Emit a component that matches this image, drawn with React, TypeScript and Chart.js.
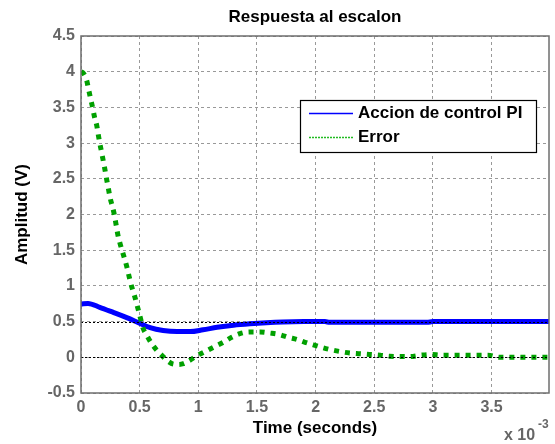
import React, { useEffect, useRef } from "react";
import { Chart, registerables } from "chart.js";

Chart.register(...registerables);

const titleText = "Respuesta al escalon";
const xLabel = "Time (seconds)";
const yLabel = "Amplitud (V)";
const seriesNames = ["Accion de control PI", "Error"];

// time in units of 1e-3 s
const controlTime = [0, 0.06, 0.16, 0.28, 0.39, 0.49, 0.59, 0.7, 0.82, 0.93, 1.04, 1.16, 1.3, 1.44, 1.58, 1.72, 1.9, 2.08, 2.12, 2.95, 3.0, 3.5, 3.99];
const controlValue = [0.745, 0.755, 0.7, 0.625, 0.555, 0.485, 0.415, 0.375, 0.36, 0.36, 0.385, 0.42, 0.45, 0.47, 0.485, 0.495, 0.5, 0.5, 0.49, 0.49, 0.5, 0.5, 0.5];

const errorTime = [0, 0.02, 0.048, 0.065, 0.085, 0.1, 0.116, 0.134, 0.147, 0.16, 0.176, 0.19, 0.205, 0.22, 0.235, 0.25, 0.27, 0.285, 0.3, 0.315, 0.332, 0.355, 0.375, 0.395, 0.412, 0.432, 0.455, 0.475, 0.494, 0.511, 0.531, 0.56, 0.603, 0.645, 0.688, 0.73, 0.787, 0.83, 0.872, 0.93, 0.986, 1.057, 1.128, 1.213, 1.285, 1.355, 1.435, 1.526, 1.61, 1.69, 1.767, 1.84, 1.91, 1.98, 2.05, 2.12, 2.21, 2.29, 2.38, 2.46, 2.55, 2.63, 2.8, 2.9, 2.99, 3.07, 3.24, 3.47, 3.57, 3.99];
const errorValue = [4.0, 3.98, 3.88, 3.75, 3.6, 3.49, 3.36, 3.25, 3.12, 3.0, 2.87, 2.75, 2.62, 2.48, 2.35, 2.22, 2.1, 1.99, 1.85, 1.71, 1.6, 1.47, 1.36, 1.24, 1.12, 0.99, 0.87, 0.75, 0.63, 0.52, 0.4, 0.31, 0.19, 0.1, 0.03, -0.04, -0.095, -0.1, -0.09, -0.04, 0.02, 0.08, 0.14, 0.21, 0.28, 0.33, 0.355, 0.355, 0.34, 0.32, 0.28, 0.25, 0.21, 0.175, 0.14, 0.11, 0.08, 0.06, 0.05, 0.04, 0.03, 0.015, 0.01, 0.03, 0.04, 0.03, 0.03, 0.03, 0.0, 0.0];

const xTicks = [0, 0.5, 1, 1.5, 2, 2.5, 3, 3.5];
const xMin = 0;
const xMax = 3.99;
const yMin = -0.5;
const yMax = 4.5;
const refLevels = [0, 0.5];

const FONT = "'Liberation Sans', Arial, Helvetica, sans-serif";
const BLUE = "#0000ff";
const GREEN = "#00a000";

export default function App() {
  const ref = useRef<HTMLCanvasElement | null>(null);

  useEffect(() => {
    document.body.style.margin = "0";
    const canvas = ref.current;
    if (!canvas) return;

    const decor = {
      id: "decor",
      afterDatasetsDraw(chart: any) {
        const { ctx, chartArea: a, scales } = chart;
        const ys = scales.y;
        ctx.save();
        ctx.strokeStyle = "#000";
        ctx.lineWidth = 1;
        ctx.setLineDash([2, 2]);
        refLevels.forEach((v) => {
          const py = Math.round(ys.getPixelForValue(v)) + 0.5;
          ctx.beginPath();
          ctx.moveTo(a.left, py);
          ctx.lineTo(a.right, py);
          ctx.stroke();
        });
        ctx.restore();
      },
      afterDraw(chart: any) {
        const { ctx, chartArea: a } = chart;
        ctx.save();
        // box
        ctx.strokeStyle = "#6e6e6e";
        ctx.lineWidth = 1.5;
        ctx.setLineDash([]);
        ctx.strokeRect(a.left, a.top, a.right - a.left, a.bottom - a.top);

        const cx = (a.left + a.right) / 2;
        // title
        ctx.fillStyle = "#000";
        ctx.font = `bold 17px ${FONT}`;
        ctx.textAlign = "center";
        ctx.textBaseline = "middle";
        ctx.fillText(titleText, cx, 17);
        // x label
        ctx.fillText(xLabel, cx, 428);
        // y label
        ctx.save();
        ctx.translate(22, (a.top + a.bottom) / 2);
        ctx.rotate(-Math.PI / 2);
        ctx.fillText(yLabel, 0, 0);
        ctx.restore();
        // exponent
        ctx.fillStyle = "#666";
        ctx.textAlign = "left";
        ctx.font = `bold 16px ${FONT}`;
        ctx.fillText("x 10", 504, 436);
        ctx.font = `bold 12px ${FONT}`;
        ctx.fillText("-3", 538, 425);

        // legend
        const lx = 300.5, ly = 100.5, lw = 236, lh = 52;
        ctx.fillStyle = "#fff";
        ctx.fillRect(lx, ly, lw, lh);
        ctx.strokeStyle = "#000";
        ctx.lineWidth = 1.2;
        ctx.strokeRect(lx, ly, lw, lh);
        const rows = [
          { y: 113, color: "#0000ff", dash: [] as number[] },
          { y: 137, color: "#22bb22", dash: [2, 1] },
        ];
        rows.forEach((r, i) => {
          ctx.beginPath();
          ctx.strokeStyle = r.color;
          ctx.lineWidth = 1.3;
          ctx.setLineDash(r.dash);
          ctx.moveTo(309, r.y + 0.5);
          ctx.lineTo(353, r.y + 0.5);
          ctx.stroke();
          ctx.setLineDash([]);
          ctx.fillStyle = "#000";
          ctx.font = `bold 17px ${FONT}`;
          ctx.textAlign = "left";
          ctx.textBaseline = "middle";
          ctx.fillText(seriesNames[i], 358, r.y);
        });
        ctx.restore();
      },
    };

    const chart = new Chart(canvas, {
      type: "line",
      data: {
        datasets: [
          {
            label: seriesNames[0],
            data: controlTime.map((t, i) => ({ x: t, y: controlValue[i] })),
            borderColor: BLUE,
            backgroundColor: BLUE,
            borderWidth: 5,
            pointRadius: 0,
            cubicInterpolationMode: "monotone",
            order: 1,
          },
          {
            label: seriesNames[1],
            data: errorTime.map((t, i) => ({ x: t, y: errorValue[i] })),
            borderColor: GREEN,
            backgroundColor: GREEN,
            borderWidth: 5,
            borderDash: [5, 6],
            borderCapStyle: "butt",
            pointRadius: 0,
            cubicInterpolationMode: "monotone",
            order: 0,
          },
        ],
      },
      options: {
        responsive: false,
        animation: false,
        devicePixelRatio: 1,
        layout: { padding: { top: 36, right: 6, left: 0, bottom: 0 } },
        plugins: {
          legend: { display: false },
          title: { display: false },
          tooltip: { enabled: false },
        },
        scales: {
          x: {
            type: "linear",
            min: xMin,
            max: xMax,
            afterBuildTicks: (s: any) => {
              s.ticks = xTicks.map((v) => ({ value: v }));
            },
            afterFit: (s: any) => {
              s.height = 51;
            },
            grid: { color: "#999", lineWidth: 1, drawTicks: false },
            border: { display: false, dash: [3, 3] },
            ticks: {
              color: "#666",
              font: { family: FONT, size: 16, weight: "bold" },
              padding: 5,
              maxRotation: 0,
              callback: (v: any) => String(v),
            },
          },
          y: {
            type: "linear",
            min: yMin,
            max: yMax,
            afterFit: (s: any) => {
              s.width = 81;
            },
            grid: { color: "#999", lineWidth: 1, drawTicks: false },
            border: { display: false, dash: [3, 3] },
            ticks: {
              stepSize: 0.5,
              color: "#666",
              font: { family: FONT, size: 16, weight: "bold" },
              padding: 6,
              callback: (v: any) => String(v),
            },
          },
        },
      },
      plugins: [decor],
    } as any);

    return () => chart.destroy();
  }, []);

  return (
    <div style={{ position: "absolute", left: 0, top: 0, width: 555, height: 444, background: "#fff" }}>
      <canvas ref={ref} width={555} height={444} style={{ width: 555, height: 444 }} />
    </div>
  );
}
